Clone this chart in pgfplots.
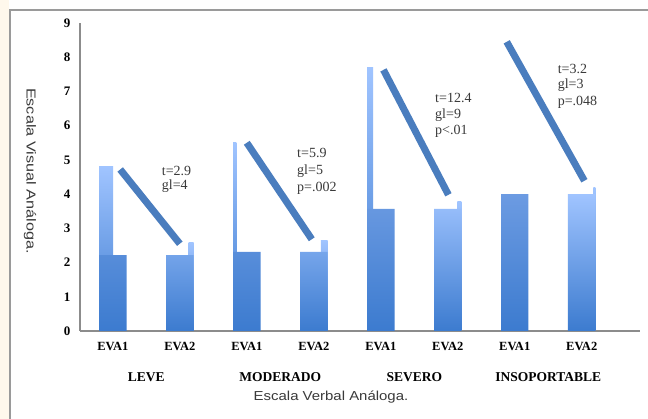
\documentclass[border=0pt]{standalone}
\usepackage{fontspec}
\setmainfont{Liberation Serif}
\newfontfamily\arialfont{Liberation Sans}
\usepackage{pgfplots}
\pgfplotsset{compat=1.18}
\usepackage{graphicx}

\definecolor{barDark}{HTML}{3C7BCF}
\definecolor{barMid}{HTML}{6C9BE2}
\definecolor{barLight}{HTML}{A0C4FF}
\definecolor{trendBlue}{HTML}{4A7DBE}
\definecolor{frameGray}{HTML}{9A9A9A}
\definecolor{axisGray}{HTML}{8C8C8C}
\definecolor{noteGray}{HTML}{3A3A3A}
\definecolor{cream}{HTML}{FFF8EC}

\begin{document}
\begin{tikzpicture}[x=1pt,y=1pt]
\useasboundingbox (0,0) rectangle (648,419);
\fill[white] (0,0) rectangle (648,419);
\fill[cream] (0,0) rectangle (9,419);
\draw[frameGray, line width=1.6pt] (10,0) -- (10,409) -- (648,409);

\begin{axis}[
  at={(80pt,88pt)}, anchor=south west,
  scale only axis,
  width=560pt, height=308pt,
  xmin=-0.49, xmax=7.87,
  ymin=0, ymax=9,
  axis lines*=left,
  axis line style={axisGray, line width=1.3pt, -},
  major tick length=0pt,
  ytick={0,1,...,9},
  xtick={0,1,...,7},
  xticklabels={EVA1,EVA2,EVA1,EVA2,EVA1,EVA2,EVA1,EVA2},
  /pgf/number format/assume math mode=true,
  yticklabel style={font=\bfseries\fontsize{13}{13}\selectfont, xshift=-6pt},
  xticklabel style={font=\bfseries\fontsize{12.5}{12.5}\selectfont, yshift=-8pt},
  clip=false,
]
% light strips along the left edge of the EVA1 bars
\addplot[ybar, bar width=0.21, bar shift=-0.10, draw=none,
  top color=barLight, bottom color=barDark] coordinates {(0,4.8)};
\addplot[ybar, bar width=0.05, bar shift=-0.18, draw=none,
  top color=barLight, bottom color=barDark] coordinates {(2,5.5)};
\addplot[ybar, bar width=0.09, bar shift=-0.16, draw=none,
  top color=barLight, bottom color=barDark] coordinates {(4,7.7)};
% slivers along the right edge of the EVA2 bars
\addplot[ybar, bar width=0.075, bar shift=0.1675, draw=none,
  top color=barLight, bottom color=barDark] coordinates {(1,2.58)};
\addplot[ybar, bar width=0.10, bar shift=0.155, draw=none,
  top color=barLight, bottom color=barDark] coordinates {(3,2.64)};
\addplot[ybar, bar width=0.06, bar shift=0.175, draw=none,
  top color=barLight, bottom color=barDark] coordinates {(5,3.78)};
\addplot[ybar, bar width=0.03, bar shift=0.19, draw=none,
  top color=barLight, bottom color=barDark] coordinates {(7,4.2)};
% EVA1 bars
\addplot[ybar, bar width=0.41, bar shift=0, draw=none,
  top color=barMid, bottom color=barDark]
  coordinates {(0,2.22) (2,2.31) (4,3.57) (6,4.0)};
% EVA2 bars
\addplot[ybar, bar width=0.41, bar shift=0, draw=none,
  top color=barLight, bottom color=barDark]
  coordinates {(1,2.22) (3,2.31) (5,3.57) (7,4.0)};
% change from EVA1 to EVA2
\addplot[trendBlue, line width=7pt, line cap=butt] coordinates {(0.11,4.72) (1.0,2.55)};
\addplot[trendBlue, line width=7pt, line cap=butt] coordinates {(2.0,5.5) (2.97,2.68)};
\addplot[trendBlue, line width=7pt, line cap=butt] coordinates {(4.04,7.63) (5.01,3.98)};
\addplot[trendBlue, line width=7pt, line cap=butt] coordinates {(5.88,8.45) (7.04,4.39)};

% test statistics
\begin{scope}[every node/.style={anchor=west, inner sep=0pt, text=noteGray,
    font=\fontsize{14}{14}\selectfont}]
\node at (axis cs:0.73,4.68) {t=2.9};
\node at (axis cs:0.73,4.24) {gl=4};
\node at (axis cs:2.75,5.20) {t=5.9};
\node at (axis cs:2.75,4.68) {gl=5};
\node at (axis cs:2.75,4.18) {p=.002};
\node at (axis cs:4.81,6.81) {t=12.4};
\node at (axis cs:4.81,6.31) {gl=9};
\node at (axis cs:4.81,5.82) {p<.01};
\node at (axis cs:6.64,7.66) {t=3.2};
\node at (axis cs:6.64,7.19) {gl=3};
\node at (axis cs:6.64,6.69) {p=.048};
\end{scope}

% group names
\begin{scope}[every node/.style={font=\bfseries\fontsize{13.5}{13.5}\selectfont, inner sep=0pt}]
\node at (axis cs:0.5,0) [yshift=-46pt] {LEVE};
\node at (axis cs:2.5,0) [yshift=-46pt] {MODERADO};
\node at (axis cs:4.5,0) [yshift=-46pt] {SEVERO};
\node at (axis cs:6.5,0) [yshift=-46pt] {INSOPORTABLE};
\end{scope}
\end{axis}

% axis titles
\node[font=\arialfont\fontsize{13}{13}\selectfont, text=noteGray, inner sep=0pt]
  at (331,22) {\scalebox{1.15}[1]{Escala Verbal Análoga.}};
\node[font=\arialfont\fontsize{13}{13}\selectfont, text=noteGray, inner sep=0pt, rotate=-90]
  at (30,248) {\scalebox{1.25}[1]{Escala Visual Análoga.}};
\end{tikzpicture}
\end{document}
